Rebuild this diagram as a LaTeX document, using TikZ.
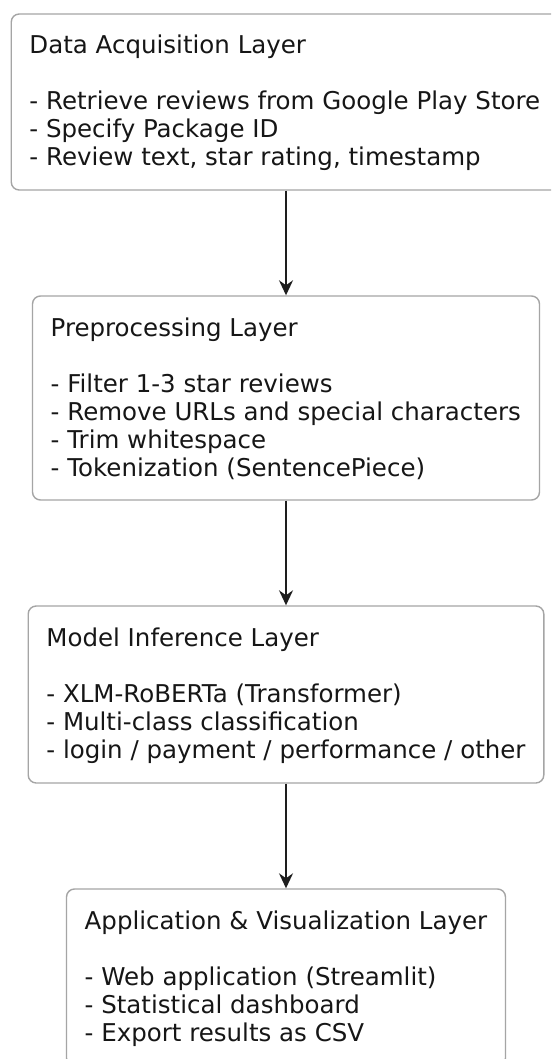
\documentclass[tikz,border=0pt]{standalone}
\usepackage{fontspec}
\setmainfont{DejaVu Sans}
\usetikzlibrary{arrows.meta}
\definecolor{boxline}{RGB}{165,165,165}
\definecolor{txtc}{RGB}{22,22,22}
\definecolor{arrowc}{RGB}{30,30,30}
\newcommand\laytext[2]{\parbox[t]{540pt}{\fontsize{24.5}{28}\selectfont #1\\[28pt]#2}}
\begin{document}
\begin{tikzpicture}[x=1pt,y=-1pt,
  layerbox/.style={draw=boxline, line width=1.4pt, rounded corners=8pt, fill=white, inner sep=0pt},
  layertext/.style={anchor=base west, inner sep=0pt, text=txtc},
  flow/.style={draw=arrowc, line width=1.8pt, -{Stealth[length=15pt,width=14pt,inset=5pt]}}]
\useasboundingbox (0,0) rectangle (551,1059);
\clip (0,0) rectangle (551,1059);
\fill[white] (0,0) rectangle (551,1059);

\node[layerbox, minimum width=549.5pt, minimum height=176pt] (b1) at (286,102) {};
\node[layertext] (t1) at (29.25,54) {\laytext{Data Acquisition Layer}{- Retrieve reviews from Google Play Store\\- Specify Package ID\\- Review text, star rating, timestamp}};

\node[layerbox, minimum width=507pt, minimum height=204pt] (b2) at (286,398) {};
\node[layertext] (t2) at (50.5,336) {\laytext{Preprocessing Layer}{- Filter 1-3 star reviews\\- Remove URLs and special characters\\- Trim whitespace\\- Tokenization (SentencePiece)}};

\node[layerbox, minimum width=515.6pt, minimum height=177pt] (b3) at (286,694.5) {};
\node[layertext] (t3) at (46.2,646) {\laytext{Model Inference Layer}{- XLM-RoBERTa (Transformer)\\- Multi-class classification\\- login / payment / performance / other}};

\node[layerbox, minimum width=439pt, minimum height=177pt] (b4) at (286,977.5) {};
\node[layertext] (t4) at (84.5,929) {\laytext{Application \& Visualization Layer}{- Web application (Streamlit)\\- Statistical dashboard\\- Export results as CSV}};

\draw[flow] (b1.south) -- (b2.north);
\draw[flow] (b2.south) -- (b3.north);
\draw[flow] (b3.south) -- (b4.north);
\end{tikzpicture}
\end{document}
